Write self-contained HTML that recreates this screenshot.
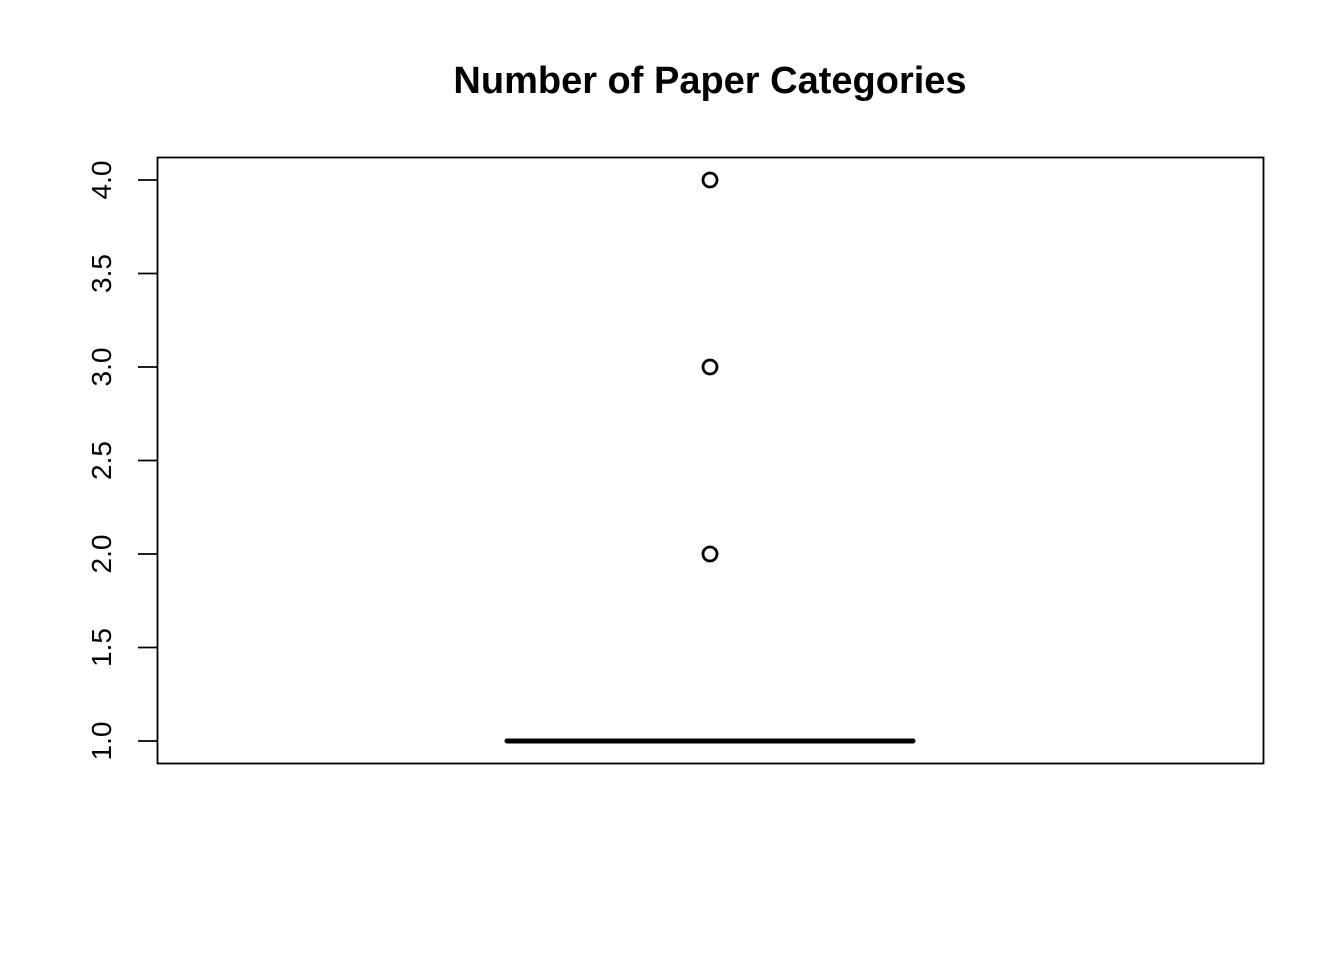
<!DOCTYPE html>
<html><head><meta charset="utf-8"><style>
body{margin:0;background:#fff;}
svg text{font-family:"Liberation Sans",Arial,sans-serif;}
</style></head><body>
<svg id="chart" width="1344" height="960" xmlns="http://www.w3.org/2000/svg">
<rect width="1344" height="960" fill="#fff"/>
<text x="710" y="93" text-anchor="middle" font-size="38" font-weight="bold">Number of Paper Categories</text>
<rect x="157.5" y="157.5" width="1106" height="606" fill="none" stroke="#000" stroke-width="1.8"/>
<g id="yaxis"></g>
<g id="marks"></g>
</svg>
<script>
const yTicks=[1.0,1.5,2.0,2.5,3.0,3.5,4.0];
const yTickLabels=["1.0","1.5","2.0","2.5","3.0","3.5","4.0"];
const boxStats=[1,1,1,1,1]; // min, q1, median, q3, max
const outliers=[2,3,4];
const NS="http://www.w3.org/2000/svg";
function y(v){return 741+(v-1)*(180-741)/3;}
const xc=710, halfW=203;
const ya=document.getElementById('yaxis');
function mk(tag,attrs,parent){const e=document.createElementNS(NS,tag);for(const k in attrs)e.setAttribute(k,attrs[k]);parent.appendChild(e);return e;}
yTicks.forEach((t,i)=>{
  const l=mk('line',{x1:138,x2:157,y1:y(t),y2:y(t),stroke:'#000','stroke-width':1.8},ya);
  
  
  const tx=mk('text',{x:111,y:y(t),'font-size':28,'text-anchor':'middle',transform:`rotate(-90 111 ${y(t)})`},ya);
  
  
  tx.textContent=yTickLabels[i];
});
const m=document.getElementById('marks');
const box=mk('rect',{x:xc-halfW,y:y(boxStats[3]),width:halfW*2,height:Math.max(0,y(boxStats[1])-y(boxStats[3])),fill:'none',stroke:'#000','stroke-width':1.5},m);


const med=mk('line',{x1:xc-halfW,x2:xc+halfW,y1:y(boxStats[2]),y2:y(boxStats[2]),stroke:'#000','stroke-width':5,'stroke-linecap':'round'},m);


outliers.forEach(v=>{
  const c=mk('circle',{cx:xc,cy:y(v),r:7,fill:'none',stroke:'#000','stroke-width':2.8},m);
  
  
});
</script>
</body></html>
